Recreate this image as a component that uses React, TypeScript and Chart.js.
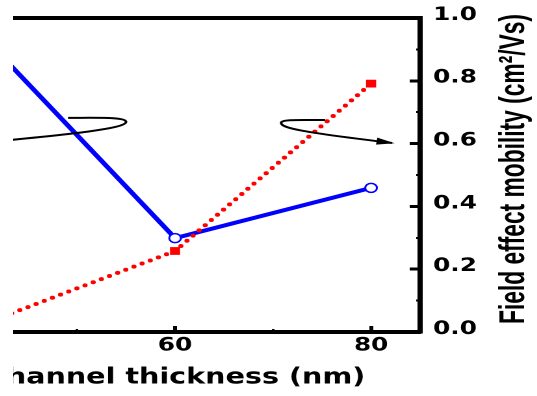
import React, { useEffect, useRef } from 'react';
import { Chart, registerables } from 'chart.js';

Chart.register(...registerables);

// ---- data ----
const thickness = [40, 60, 80];
const leftAxisSeries = [0.955, 0.299, 0.459];
const mobility = [0.02, 0.258, 0.791];
const xMajorTicks = [40, 60, 80];
const xMinorTicks = [50, 70];
const yMajorTicks = [0, 0.2, 0.4, 0.6, 0.8, 1.0];
const yMinorTicks = [0.1, 0.3, 0.5, 0.7, 0.9];
const xTitle = 'Channel thickness (nm)';
const yRightTitle = 'Field effect mobility (cm²/Vs)';
// loop annotations in data units (x, right-axis y)
const leftLoop = [[40.1, 0.602], [48.27, 0.627], [55, 0.646], [55, 0.669], [55, 0.685], [52.35, 0.682], [49.08, 0.682]];
const rightLoop = [[75.31, 0.675], [72.76, 0.675], [70.82, 0.678], [70.82, 0.666], [70.82, 0.65], [72.76, 0.637], [82.14, 0.602]];

const TICK_FONT = { family: '"DejaVu Sans", Verdana, sans-serif', size: 19, weight: 'bold' as const };

const noPadV = (s: any) => { s.paddingTop = 0; s.paddingBottom = 0; };
const noPadH = (s: any) => { s.paddingLeft = 0; s.paddingRight = 0; };

const loopsPlugin = {
  id: 'loops',
  afterDatasetsDraw(chart: any) {
    const { ctx, scales } = chart;
    const xs = scales.x, ys = scales.y;
    const P = (p: number[]) => [xs.getPixelForValue(p[0]), ys.getPixelForValue(p[1])];
    const drawPath = (pts: number[][]) => {
      const q = pts.map(P);
      ctx.beginPath();
      ctx.moveTo(q[0][0], q[0][1]);
      ctx.bezierCurveTo(q[1][0], q[1][1], q[2][0], q[2][1], q[3][0], q[3][1]);
      ctx.bezierCurveTo(q[4][0], q[4][1], q[5][0], q[5][1], q[6][0], q[6][1]);
      ctx.stroke();
      return q;
    };
    ctx.save();
    ctx.strokeStyle = '#000';
    ctx.lineWidth = 2;
    drawPath(leftLoop);
    const q = drawPath(rightLoop);
    const [x2, y2] = q[6];
    const [x1, y1] = q[5];
    const a = Math.atan2(y2 - y1, x2 - x1);
    const L = 12, W = 3.5;
    const c = Math.cos(a), s = Math.sin(a);
    ctx.fillStyle = '#000';
    ctx.beginPath();
    ctx.moveTo(x2 + 2 * c, y2 + 2 * s);
    ctx.lineTo(x2 - L * c + W * s, y2 - L * s - W * c);
    ctx.lineTo(x2 - L * c - W * s, y2 - L * s + W * c);
    ctx.closePath();
    ctx.fill();
    ctx.restore();
  },
};

const rightTitlePlugin = {
  id: 'rightTitle',
  afterDraw(chart: any) {
    const ys = chart.scales.y;
    const text = ys.options.title.text;
    const ctx = chart.ctx;
    ctx.save();
    ctx.font = 'bold 28px "Liberation Sans", Arial, sans-serif';
    ctx.fillStyle = '#000';
    const w = ctx.measureText(text).width;
    const sx = Math.min(1, 310 / w);
    const cx = ys.right - 10;
    const cy = (ys.top + ys.bottom) / 2 - 6;
    ctx.translate(cx, cy);
    ctx.rotate(-Math.PI / 2);
    ctx.scale(sx, 1);
    ctx.textAlign = 'center';
    ctx.textBaseline = 'alphabetic';
    ctx.fillText(text, 0, 0);
    ctx.restore();
  },
};

export default function App() {
  const ref = useRef<HTMLCanvasElement>(null);
  useEffect(() => {
    if (!ref.current) return;
    const chart = new Chart(ref.current, {
      type: 'line',
      data: {
        datasets: [
          {
            label: 'Field effect mobility',
            data: thickness.map((x, i) => ({ x, y: mobility[i] })),
            yAxisID: 'y',
            xAxisID: 'x',
            borderColor: '#ff0000',
            backgroundColor: '#ff0000',
            borderWidth: 4,
            borderDash: [0, 7],
            borderCapStyle: 'round',
            pointStyle: 'rect',
            pointRadius: 5.5,
            pointBorderWidth: 0,
            pointBackgroundColor: '#ff0000',
            tension: 0,
          },
          {
            label: 'Left axis quantity',
            data: thickness.map((x, i) => ({ x, y: leftAxisSeries[i] })),
            yAxisID: 'yL',
            xAxisID: 'x',
            borderColor: '#0000ff',
            backgroundColor: '#ffffff',
            borderWidth: 4,
            pointStyle: 'circle',
            pointRadius: 4.5,
            pointBorderWidth: 1.5,
            pointBorderColor: '#0000ff',
            pointBackgroundColor: '#ffffff',
            tension: 0,
          },
        ],
      },
      options: {
        responsive: false,
        animation: false,
        devicePixelRatio: 2,
        layout: { padding: 0 },
        plugins: { legend: { display: false }, tooltip: { enabled: false } },
        scales: {
          x: {
            type: 'linear',
            position: 'bottom',
            min: 35,
            max: 85,
            weight: 1,
            afterBuildTicks: (s: any) => { s.ticks = xMajorTicks.map((v) => ({ value: v })); },
            afterFit: (s: any) => { s.height = 64; noPadH(s); },
            ticks: { font: TICK_FONT, color: '#000', padding: 8, maxRotation: 0, autoSkip: false, callback: (v: any) => String(v) },
            grid: { drawOnChartArea: false, tickLength: -6, tickWidth: 3, tickColor: '#000' },
            border: { display: true, color: '#000', width: 4 },
            title: {
              display: true,
              text: xTitle,
              color: '#000',
              font: { family: '"DejaVu Sans", Verdana, sans-serif', size: 22, weight: 'bold' },
              padding: { top: 0, bottom: 5 },
            },
          },
          xMinor: {
            type: 'linear',
            position: 'bottom',
            min: 35,
            max: 85,
            weight: 0,
            afterBuildTicks: (s: any) => { s.ticks = xMinorTicks.map((v) => ({ value: v })); },
            afterFit: (s: any) => { s.height = 0; noPadH(s); },
            ticks: { display: false },
            grid: { drawOnChartArea: false, tickLength: -3, tickWidth: 2, tickColor: '#000' },
            border: { display: false },
          },
          xTop: {
            type: 'linear',
            position: 'top',
            min: 35,
            max: 85,
            afterFit: (s: any) => { s.height = 18; noPadH(s); },
            ticks: { display: false },
            grid: { drawOnChartArea: false, drawTicks: false },
            border: { display: true, color: '#000', width: 4 },
          },
          yL: {
            type: 'linear',
            position: 'left',
            min: 0,
            max: 1,
            afterFit: (s: any) => { s.width = 50; noPadV(s); },
            ticks: { font: TICK_FONT, color: '#000', stepSize: 0.2 },
            grid: { drawOnChartArea: false, tickLength: -8, tickWidth: 3, tickColor: '#000' },
            border: { display: true, color: '#000', width: 4 },
          },
          y: {
            type: 'linear',
            position: 'right',
            min: 0,
            max: 1,
            weight: 1,
            afterBuildTicks: (s: any) => { s.ticks = yMajorTicks.map((v) => ({ value: v })); },
            afterFit: (s: any) => { s.width = 90; noPadV(s); },
            ticks: { font: TICK_FONT, color: '#000', padding: 18, labelOffset: -3, callback: (v: any) => Number(v).toFixed(1) },
            grid: { drawOnChartArea: false, tickLength: -8, tickWidth: 3, tickColor: '#000' },
            border: { display: true, color: '#000', width: 4 },
            title: { display: false, text: yRightTitle },
          },
          yMinor: {
            type: 'linear',
            position: 'right',
            min: 0,
            max: 1,
            weight: 0,
            afterBuildTicks: (s: any) => { s.ticks = yMinorTicks.map((v) => ({ value: v })); },
            afterFit: (s: any) => { s.width = 0; noPadV(s); },
            ticks: { display: false },
            grid: { drawOnChartArea: false, tickLength: -3, tickWidth: 2, tickColor: '#000' },
            border: { display: false },
          },
        },
      } as any,
      plugins: [loopsPlugin, rightTitlePlugin],
    });
    return () => chart.destroy();
  }, []);

  return (
    <div style={{ position: 'fixed', left: 0, top: 0, width: 537, height: 396, overflow: 'hidden', background: '#fff' }}>
      <div style={{ position: 'absolute', left: 13, top: 0, width: 524, height: 396, overflow: 'hidden' }}>
        <canvas
          ref={ref}
          width={517}
          height={396}
          style={{ position: 'absolute', left: -148, top: 0, width: 517, height: 396, transform: 'scaleX(1.3)', transformOrigin: '0 0' }}
        />
      </div>
    </div>
  );
}
